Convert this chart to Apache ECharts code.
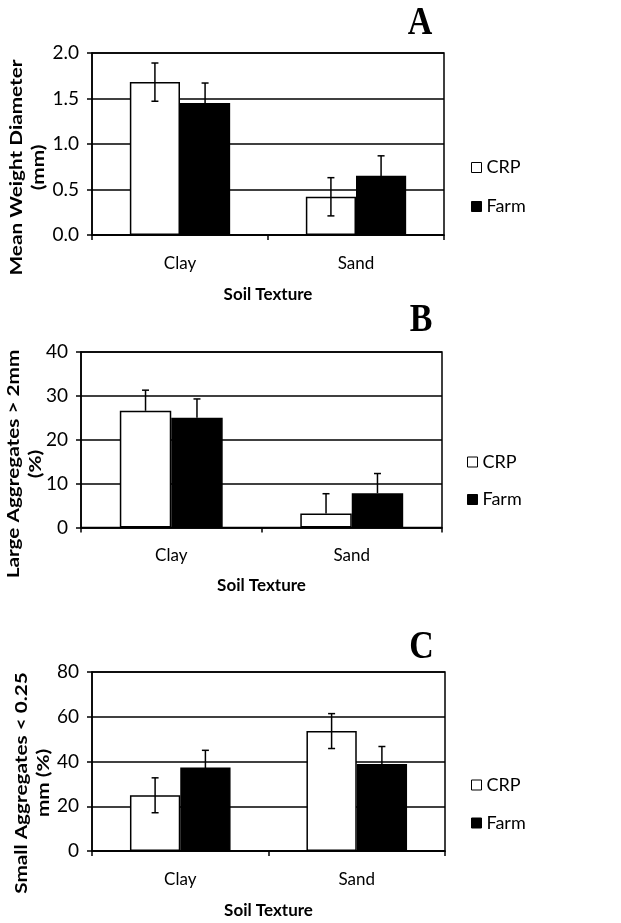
<!DOCTYPE html>
<html>
<head>
<meta charset="utf-8">
<script src="https://cdn.jsdelivr.net/npm/echarts@6/dist/echarts.min.js"></script>
<style>
html,body{margin:0;padding:0;background:#fff;}
#chart{width:621px;height:923px;}
</style>
</head>
<body>
<div id="chart"></div>
<script>
// ---------- DATA ----------
const categories = ['Clay', 'Sand'];
const seriesNames = ['CRP', 'Farm'];
const xTitle = 'Soil Texture';
const panelLetters = ['A', 'B', 'C'];
const yTitles = ['Mean Weight Diameter\n(mm)', 'Large Aggregates > 2mm\n(%)', 'Small Aggregates < 0.25\nmm (%)'];

// Panel A: Mean weight diameter (mm)
const mwdCRP = [1.68, 0.42];
const mwdCRPErr = [0.21, 0.21];
const mwdFarm = [1.45, 0.65];
const mwdFarmErr = [0.22, 0.22];
const mwdTicks = [0, 0.5, 1.0, 1.5, 2.0];

// Panel B: Large aggregates > 2mm (%)
const largeCRP = [26.6, 3.2];
const largeCRPErr = [4.7, 4.5];
const largeFarm = [25.0, 7.8];
const largeFarmErr = [4.3, 4.5];
const largeTicks = [0, 10, 20, 30, 40];

// Panel C: Small aggregates < 0.25 mm (%)
const smallCRP = [24.9, 53.6];
const smallCRPErr = [7.8, 7.8];
const smallFarm = [37.3, 38.9];
const smallFarmErr = [7.7, 7.8];
const smallTicks = [0, 20, 40, 60, 80];

// ---------- LAYOUT ----------
const panels = [
  {crp: mwdCRP, crpErr: mwdCRPErr, farm: mwdFarm, farmErr: mwdFarmErr, ticks: mwdTicks, dec: 1, lower: true,
   grid: {left: 92, top: 53, width: 352, height: 182}, legend: {left: 466, top: 152.5, gap: 19},
   letter: {x: 420, y: 23.5}, ytitle: {x: 27.5, y: 167.5}, nameGap: 51},
  {crp: largeCRP, crpErr: largeCRPErr, farm: largeFarm, farmErr: largeFarmErr, ticks: largeTicks, dec: 0, lower: false,
   grid: {left: 81, top: 352, width: 361, height: 175.5}, legend: {left: 462, top: 447, gap: 17.5},
   letter: {x: 421, y: 320}, ytitle: {x: 25, y: 464}, nameGap: 50},
  {crp: smallCRP, crpErr: smallCRPErr, farm: smallFarm, farmErr: smallFarmErr, ticks: smallTicks, dec: 0, lower: true,
   grid: {left: 92, top: 672, width: 353, height: 179}, legend: {left: 466, top: 770, gap: 18},
   letter: {x: 421.5, y: 647}, ytitle: {x: 33, y: 783}, nameGap: 51}
];

const FONT = 'Lato';
const BAR_GAP_CAT = 0.43;
const HALF_OFF = (1 - BAR_GAP_CAT) / 4;

function makeErr(sign) {
  return function (params, api) {
    const k = api.value(0), v = api.value(1), up = api.value(2), dn = api.value(3);
    const cw = api.size([1, 0])[0];
    const c = api.coord([k, v]);
    const x = c[0] + sign * cw * HALF_OFF;
    const yTop = api.coord([k, v + up])[1];
    const yBot = api.coord([k, v - dn])[1];
    const hw = 3.5;
    const style = {stroke: '#000', lineWidth: 1.5};
    const children = [
      {type: 'line', shape: {x1: x, y1: yTop, x2: x, y2: yBot}, style: style},
      {type: 'line', shape: {x1: x - hw, y1: yTop, x2: x + hw, y2: yTop}, style: style}
    ];
    if (dn > 0) children.push({type: 'line', shape: {x1: x - hw, y1: yBot, x2: x + hw, y2: yBot}, style: style});
    return {type: 'group', children: children};
  };
}

const grids = [], xAxes = [], yAxes = [], series = [], legends = [], graphics = [];

panels.forEach((p, i) => {
  grids.push(Object.assign({show: true, borderColor: '#000', borderWidth: 1.5, backgroundColor: 'transparent'}, p.grid));
  xAxes.push({
    type: 'category', gridIndex: i, data: categories, boundaryGap: true,
    axisLine: {lineStyle: {color: '#000', width: 1.5}},
    axisTick: {show: true, length: 5, lineStyle: {color: '#000', width: 1.5}},
    axisLabel: {color: '#000', fontFamily: FONT, fontSize: 17, margin: 20},
    name: xTitle, nameLocation: 'middle', nameGap: p.nameGap,
    nameTextStyle: {color: '#000', fontFamily: FONT, fontWeight: 'bold', fontSize: 17}
  });
  const t = p.ticks;
  yAxes.push({
    type: 'value', gridIndex: i, min: t[0], max: t[t.length - 1], interval: t[1] - t[0],
    axisLine: {show: true, lineStyle: {color: '#000', width: 1.5}},
    axisTick: {show: true, length: 5, lineStyle: {color: '#000', width: 1.5}},
    splitLine: {show: true, lineStyle: {color: '#000', width: 1.5}},
    axisLabel: {color: '#000', fontFamily: FONT, fontSize: 19, margin: 13,
      formatter: (v) => Number(v).toFixed(p.dec)}
  });
  series.push({
    type: 'bar', name: seriesNames[0], xAxisIndex: i, yAxisIndex: i, data: p.crp,
    barGap: '0%', barCategoryGap: (BAR_GAP_CAT * 100) + '%',
    itemStyle: {color: '#fff', borderColor: '#000', borderWidth: 1.5}, z: 2
  });
  series.push({
    type: 'bar', name: seriesNames[1], xAxisIndex: i, yAxisIndex: i, data: p.farm,
    barGap: '0%', barCategoryGap: (BAR_GAP_CAT * 100) + '%',
    itemStyle: {color: '#000', borderColor: '#000', borderWidth: 1.5}, z: 2
  });
  series.push({
    type: 'custom', name: seriesNames[0] + ' error', xAxisIndex: i, yAxisIndex: i, z: 5, silent: true,
    data: p.crp.map((v, k) => [k, v, p.crpErr[k], p.lower ? p.crpErr[k] : 0]),
    encode: {x: 0, y: 1}, renderItem: makeErr(-1)
  });
  series.push({
    type: 'custom', name: seriesNames[1] + ' error', xAxisIndex: i, yAxisIndex: i, z: 5, silent: true,
    data: p.farm.map((v, k) => [k, v, p.farmErr[k], p.lower ? p.farmErr[k] : 0]),
    encode: {x: 0, y: 1}, renderItem: makeErr(1)
  });
  legends.push({
    orient: 'vertical', left: p.legend.left, top: p.legend.top, itemGap: p.legend.gap,
    itemWidth: 10, itemHeight: 10, icon: 'rect', selectedMode: false,
    textStyle: {color: '#000', fontFamily: FONT, fontSize: 18, lineHeight: 20},
    data: [
      {name: seriesNames[0], itemStyle: {color: '#fff', borderColor: '#000', borderWidth: 1}},
      {name: seriesNames[1], itemStyle: {color: '#000', borderColor: '#000', borderWidth: 1}}
    ]
  });
  graphics.push({
    type: 'text', x: p.letter.x, y: p.letter.y, scaleY: 1.2, z: 10,
    style: {text: panelLetters[i], font: 'bold 34px "Liberation Serif"', fill: '#000',
      align: 'center', verticalAlign: 'middle', textAlign: 'center', textVerticalAlign: 'middle'}
  });
  graphics.push({
    type: 'text', x: p.ytitle.x, y: p.ytitle.y, rotation: Math.PI / 2, scaleX: 1.22, z: 10,
    style: {text: yTitles[i], font: 'bold 17px Lato', fill: '#000', lineHeight: 22,
      align: 'center', verticalAlign: 'middle', textAlign: 'center', textVerticalAlign: 'middle'}
  });
});

const chart = echarts.init(document.getElementById('chart'), null, {renderer: 'canvas'});
chart.setOption({
  animation: false,
  backgroundColor: '#fff',
  grid: grids, xAxis: xAxes, yAxis: yAxes, series: series, legend: legends, graphic: graphics
});
</script>
</body>
</html>
